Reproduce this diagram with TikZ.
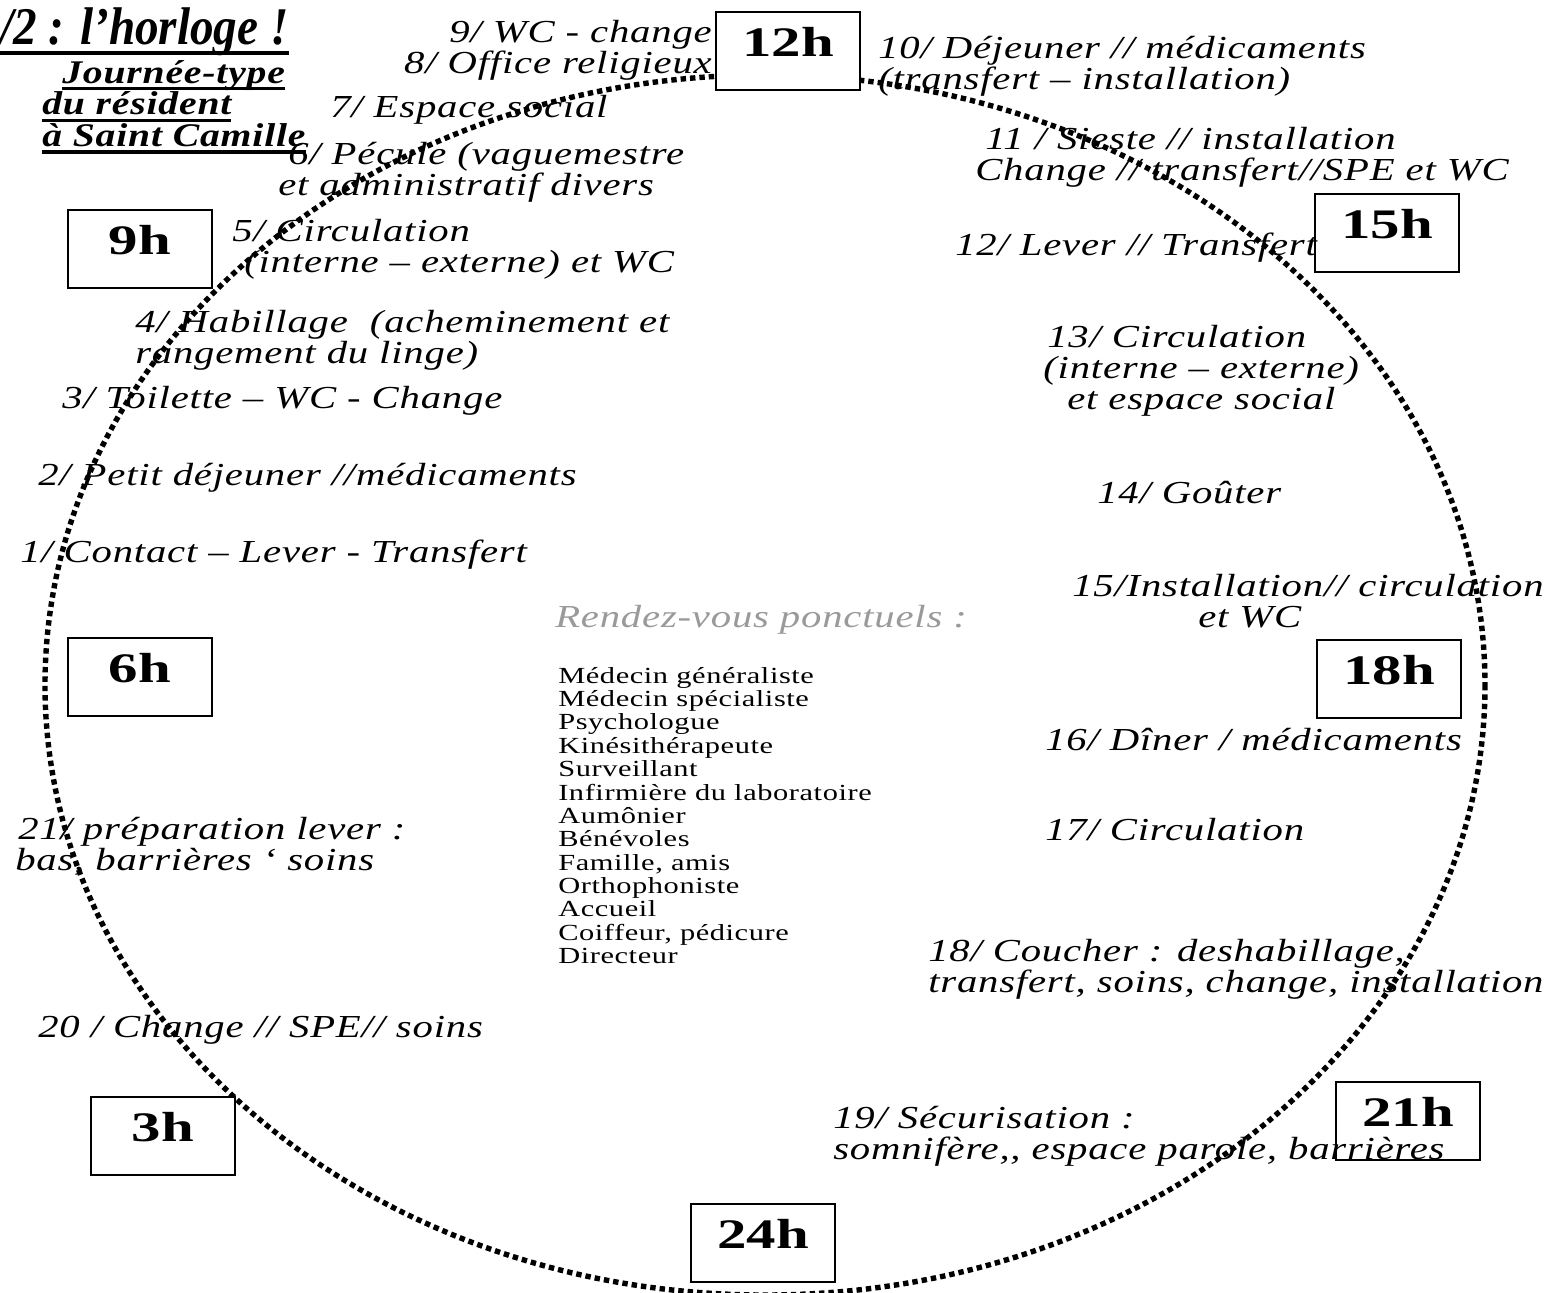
\documentclass[tikz,border=0pt]{standalone}
\usepackage{fontspec}
\setmainfont{Liberation Serif}
\newfontfamily\actfont[FakeStretch=1.27,LetterSpace=2.5]{Liberation Serif}
\newfontfamily\subfont[FakeStretch=1.2,LetterSpace=2.5]{Liberation Serif}
\newfontfamily\listfont[FakeStretch=1.32,LetterSpace=2.5]{Liberation Serif}
\newfontfamily\hourfont[FakeStretch=1.4]{Liberation Serif}
\newfontfamily\titlefont[FakeStretch=0.89]{Liberation Serif}
\usepackage{tikz}
\usetikzlibrary{positioning}
\definecolor{greytext}{HTML}{9A9A9A}
% thick underline, as in the printed sheet
\newcommand{\thickul}[3]{\leavevmode\setbox0\hbox{#1}%
  \rlap{\vrule width\wd0 height -#2 depth #3}\box0}
\tikzset{
    hourbox/.style={draw,fill=white,line width=0.5mm,inner xsep=0pt,inner ysep=0pt,
      minimum width=36mm,text height=11mm,text depth=8.5mm,
      font=\hourfont\fontsize{29.9}{30}\selectfont\bfseries},
    activity/.style={inner sep=0pt,align=left,anchor=west,
      font=\actfont\fontsize{22.8}{22}\selectfont\itshape},
    rdvlist/.style={inner sep=0pt,align=left,anchor=north west,
      font=\listfont\fontsize{16.4}{16.6}\selectfont},
    maintitle/.style={inner sep=0pt,anchor=base west,
      font=\titlefont\fontsize{37.7}{38}\selectfont\bfseries\itshape},
    subtitle/.style={inner sep=0pt,align=left,anchor=north west,
      font=\subfont\fontsize{23.5}{20.6}\selectfont\bfseries\itshape},
    clockline/.style={line width=1.35mm,dash pattern=on 1.35mm off 1mm,line cap=butt}
}

\begin{document}
\begin{tikzpicture}[x=0.25mm,y=-0.25mm]
  \useasboundingbox (0,0) rectangle (1546,1293);
  % the day as a dotted clock face
  \draw[clockline] (765,685) ellipse [x radius=720,y radius=610];
  \foreach \h/\x/\y in {12/788/51,9/140/249,15/1387/233,6/140/677,
                        18/1389/679,3/163/1136,21/1408/1121,24/763/1243}
    \node[hourbox] (h\h) at (\x,\y) {\h h};

  \node[maintitle] (title) at (0,45) {\thickul{/2 : l’horloge !}{1.5mm}{2.5mm}};
  \node[subtitle] (sub) at (42,60)
    {\hspace*{5mm}\thickul{Journée-type}{1mm}{1.8mm}\\\thickul{du résident}{1mm}{1.8mm}\\
     \thickul{à Saint Camille}{1mm}{1.8mm}};

  % morning
  \node[activity,align=right,anchor=east] (a8) at (712,50) {9/ WC - change\\8/ Office religieux};
  \node[activity] (a7) at (330,110) {7/ Espace social};
  \node[activity] (a6) at (278,172) {\hspace*{2.5mm}6/ Pécule (vaguemestre\\et administratif divers};
  \node[activity] (a5) at (232,249) {5/ Circulation\\\hspace*{3mm}(interne – externe) et WC};
  \node[activity] (a4) at (135,340) {4/ Habillage~~(acheminement et\\rangement du linge)};
  \node[activity] (a3) at (62,401) {3/ Toilette – WC - Change};
  \node[activity] (a2) at (38,478) {2/ Petit déjeuner //médicaments};
  \node[activity] (a1) at (20,555) {1/ Contact – Lever - Transfert};
  % afternoon
  \node[activity] (a10) at (878,66) {10/ Déjeuner // médicaments\\(transfert – installation)};
  \node[activity] (a11) at (975,157) {\hspace*{2.5mm}11 / Sieste // installation\\Change // transfert//SPE et WC};
  \node[activity] (a12) at (955,248) {12/ Lever // Transfert};
  \node[activity] (a13) at (1043,371) {\hspace*{1mm}13/ Circulation\\(interne – externe)\\\hspace*{6mm}et espace social};
  \node[activity] (a14) at (1097,493) {14/ Goûter};
  \node[activity] (a15) at (1072,601) {15/Installation// circulation\\\hspace*{31.5mm}et WC};
  % evening and night
  \node[activity] (a16) at (1045,740) {16/ Dîner / médicaments};
  \node[activity] (a17) at (1045,830) {17/ Circulation};
  \node[activity] (a18) at (928,969) {18/ Coucher : deshabillage,\\transfert, soins, change, installation};
  \node[activity] (a19) at (833,1136) {19/ Sécurisation :\\somnifère,, espace parole, barrières};
  \node[activity] (a20) at (38,1030) {20 / Change // SPE// soins};
  \node[activity] (a21) at (15,846) {\hspace*{0.75mm}21/ préparation lever :\\bas, barrières ‘ soins};

  % appointments in the middle
  \node[activity,text=greytext] (rdv) at (555,620) {Rendez-vous ponctuels :};
  \node[rdvlist] (who) at (558,667) {Médecin généraliste\\Médecin spécialiste\\Psychologue\\
    Kinésithérapeute\\Surveillant\\Infirmière du laboratoire\\Aumônier\\Bénévoles\\
    Famille, amis\\Orthophoniste\\Accueil\\Coiffeur, pédicure\\Directeur};
\end{tikzpicture}
\end{document}
